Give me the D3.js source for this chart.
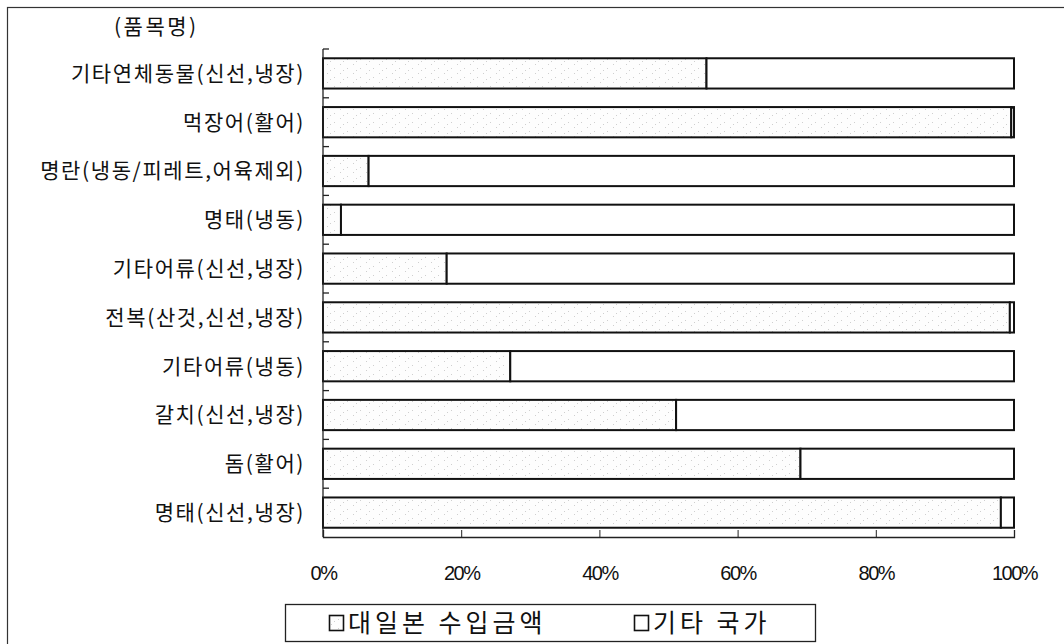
<!DOCTYPE html>
<html>
<head>
<meta charset="utf-8">
<script src="https://cdn.jsdelivr.net/npm/d3@7"></script>
<style>
  body { margin: 0; background: #fff; }
  text { fill: #111; }
</style>
</head>
<body>
<div id="chart"></div>
<script>
// Item names (top to bottom) and Japan share of import amount (%)
const items = [
  "기타연체동물(신선,냉장)",
  "먹장어(활어)",
  "명란(냉동/피레트,어육제외)",
  "명태(냉동)",
  "기타어류(신선,냉장)",
  "전복(산것,신선,냉장)",
  "기타어류(냉동)",
  "갈치(신선,냉장)",
  "돔(활어)",
  "명태(신선,냉장)"
];
const japanShare = [55.5, 99.6, 6.6, 2.6, 17.9, 99.4, 27.1, 51.1, 69.1, 98.1];
const otherShare = japanShare.map(v => 100 - v);
const seriesNames = ["대일본 수입금액", "기타 국가"];
const xTicks = [0, 20, 40, 60, 80, 100];

const width = 1064, height = 644;
const plot = { left: 323, right: 1014, top: 49, bottom: 537 };

const svg = d3.select("#chart").append("svg")
    .attr("width", width)
    .attr("height", height);

// speckled light fill for the Japan part
const defs = svg.append("defs");
const pat = defs.append("pattern")
    .attr("id", "speckle")
    .attr("patternUnits", "userSpaceOnUse")
    .attr("width", 13).attr("height", 9);
pat.append("rect").attr("width", 13).attr("height", 9).attr("fill", "#fdfdfd");
[[2, 1], [9, 5], [5, 7]].forEach(p => {
    pat.append("rect").attr("x", p[0]).attr("y", p[1])
        .attr("width", 1).attr("height", 1).attr("fill", "#cfcfcf");
});

// outer frame
svg.append("rect")
    .attr("x", 7.5).attr("y", 7.5)
    .attr("width", 1070).attr("height", 660)
    .attr("fill", "none").attr("stroke", "#333").attr("stroke-width", 1.2);

const x = d3.scaleLinear().domain([0, 100]).range([plot.left, plot.right]);
const y = d3.scaleBand().domain(items).range([plot.top, plot.bottom]).paddingInner(0.38).paddingOuter(0.19);
const yBand = d3.scaleBand().domain(items).range([plot.top, plot.bottom]);

// stacked data
const rows = items.map((name, i) => ({ name, japan: japanShare[i], other: otherShare[i] }));
const stack = d3.stack().keys(["japan", "other"])(rows);
const fills = ["url(#speckle)", "#fff"];

svg.append("g").selectAll("g")
  .data(stack)
  .join("g")
    .attr("fill", (d, i) => fills[i])
  .selectAll("rect")
  .data(d => d)
  .join("rect")
    .attr("x", d => x(d[0]))
    .attr("y", d => y(d.data.name))
    .attr("width", d => x(d[1]) - x(d[0]))
    .attr("height", y.bandwidth())
    .attr("stroke", "#111")
    .attr("stroke-width", 2);

// x axis (ticks point up into the plot)
const xAxis = svg.append("g")
    .attr("transform", `translate(0,${plot.bottom})`)
    .call(d3.axisBottom(x).tickValues(xTicks).tickFormat(d => d + "%").tickSizeInner(-7).tickSizeOuter(-7).tickPadding(29));
xAxis.select(".domain").attr("stroke", "#222").attr("stroke-width", 1.3);
xAxis.selectAll(".tick line").attr("stroke", "#222");
xAxis.selectAll("text")
    .attr("font-family", "Liberation Sans, Arial, sans-serif")
    .attr("font-size", 20)
    .attr("letter-spacing", -1.5)
    .attr("fill", "#111");

// y axis: vertical line with small inward ticks at category boundaries
const yAxis = svg.append("g");
yAxis.append("line")
    .attr("x1", plot.left).attr("x2", plot.left)
    .attr("y1", plot.top).attr("y2", plot.bottom)
    .attr("stroke", "#222").attr("stroke-width", 1.3);
yAxis.selectAll(".btick")
  .data(items)
  .join("line")
    .attr("class", "btick")
    .attr("x1", plot.left).attr("x2", plot.left + 6)
    .attr("y1", d => yBand(d)).attr("y2", d => yBand(d))
    .attr("stroke", "#222").attr("stroke-width", 1.3);

// category labels
yAxis.selectAll(".lbl")
  .data(items)
  .join("text")
    .attr("class", "lbl")
    .attr("x", 305)
    .attr("y", d => yBand(d) + yBand.bandwidth() / 2)
    .attr("dy", "0.35em")
    .attr("text-anchor", "end")
    .attr("font-family", "Noto Sans CJK KR, sans-serif")
    .attr("font-size", 21)
    .attr("letter-spacing", 1.6)
    .text(d => d);

// axis title
svg.append("text")
    .attr("x", 114).attr("y", 27)
    .attr("dy", "0.35em")
    .attr("font-family", "Noto Sans CJK KR, sans-serif")
    .attr("font-size", 21)
    .attr("letter-spacing", 2.5)
    .text("(품목명)");

// legend
const legend = svg.append("g");
legend.append("rect")
    .attr("x", 285.5).attr("y", 604.5)
    .attr("width", 530).attr("height", 37)
    .attr("fill", "#fff").attr("stroke", "#222").attr("stroke-width", 1.3);
const legendX = [329, 634];
const lg = legend.selectAll(".item")
  .data(seriesNames)
  .join("g")
    .attr("class", "item")
    .attr("transform", (d, i) => `translate(${legendX[i]},623)`);
lg.append("rect")
    .attr("x", 0.5).attr("y", -7.5)
    .attr("width", 14).attr("height", 15)
    .attr("fill", (d, i) => fills[i])
    .attr("stroke", "#111").attr("stroke-width", 1.6);
lg.append("text")
    .attr("x", 19)
    .attr("dy", "0.35em")
    .attr("font-family", "Noto Sans CJK KR, sans-serif")
    .attr("font-size", 25)
    .attr("letter-spacing", 4)
    .text(d => d);
</script>
</body>
</html>
